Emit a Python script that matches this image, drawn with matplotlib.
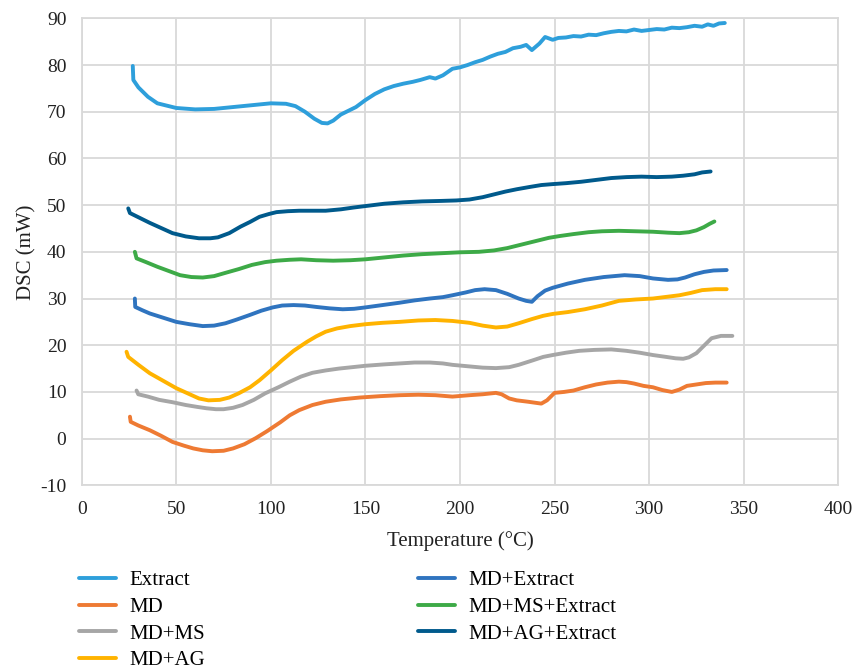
import matplotlib.pyplot as plt

# DSC curves (temperature in °C, heat flow in mW)
extract_t = [27, 27.3, 30, 35, 40, 50, 60, 70, 80, 90, 100, 108, 113, 118, 123, 127, 130, 133, 137, 140,
             145, 150, 155, 160, 165, 170, 175, 179, 184, 187, 191, 196, 200, 204, 208, 212, 216, 220,
             224, 228, 232, 235, 238, 242, 245, 249, 252, 256, 260, 264, 268, 272, 276, 280, 284, 288,
             292, 296, 300, 304, 308, 312, 316, 320, 324, 328, 331, 334, 337, 340]
extract_v = [79.8, 76.8, 75.2, 73.2, 71.8, 70.8, 70.5, 70.6, 71.0, 71.4, 71.8, 71.7, 71.2, 70.0, 68.5, 67.6,
             67.5, 68.1, 69.4, 70.0, 71.0, 72.5, 73.8, 74.8, 75.5, 76.0, 76.4, 76.8, 77.4, 77.1, 77.8,
             79.2, 79.5, 80.0, 80.6, 81.1, 81.8, 82.4, 82.8, 83.6, 83.9, 84.3, 83.2, 84.6, 86.0, 85.4,
             85.8, 85.9, 86.2, 86.1, 86.5, 86.4, 86.8, 87.1, 87.3, 87.2, 87.6, 87.3, 87.5, 87.7, 87.6,
             88.0, 87.9, 88.1, 88.4, 88.2, 88.7, 88.4, 88.9, 89.0]

md_t = [25.5, 25.9, 30, 36, 42, 48, 54, 59, 64, 69, 75, 80, 86, 92, 98, 105, 110, 115, 122, 129, 137,
        147, 158, 168, 178, 187, 196, 205, 212, 219, 222, 226, 230, 236, 243, 246, 250, 255, 260,
        266, 272, 278, 284, 288, 292, 297, 302, 307, 312, 316, 320, 325, 330, 335, 341]
md_v = [4.7, 3.6, 2.8, 1.8, 0.6, -0.7, -1.5, -2.1, -2.5, -2.7, -2.6, -2.1, -1.2, 0.1, 1.6, 3.5, 5.0, 6.1,
        7.2, 7.9, 8.4, 8.8, 9.1, 9.3, 9.4, 9.3, 9.0, 9.3, 9.5, 9.8, 9.5, 8.6, 8.2, 7.9, 7.5, 8.2, 9.8,
        10.0, 10.3, 11.0, 11.6, 12.0, 12.2, 12.1, 11.8, 11.3, 11.0, 10.4, 10.0, 10.5, 11.3, 11.6, 11.9,
        12.0, 12.0]

md_ms_t = [29, 29.9, 35, 41, 48, 55, 61, 66, 71, 75, 80, 85, 91, 97, 104, 110, 116, 122, 129, 136, 143,
           150, 160, 168, 176, 184, 191, 196, 204, 212, 219, 226, 231, 238, 244, 249, 256, 263, 271,
           280, 288, 295, 302, 309, 314, 318, 321, 325, 329, 333, 338, 344]
md_ms_v = [10.3, 9.5, 9.0, 8.3, 7.8, 7.2, 6.8, 6.5, 6.3, 6.3, 6.6, 7.2, 8.3, 9.7, 11.0, 12.2, 13.3, 14.1,
           14.6, 15.0, 15.3, 15.6, 15.9, 16.1, 16.3, 16.3, 16.1, 15.8, 15.5, 15.2, 15.1, 15.3, 15.8,
           16.7, 17.5, 17.9, 18.4, 18.8, 19.0, 19.1, 18.8, 18.4, 17.9, 17.5, 17.2, 17.1, 17.4, 18.3,
           19.9, 21.5, 22.0, 22.0]

md_ag_t = [23.7, 24.6, 30, 36, 43, 50, 56, 62, 67, 73, 78, 83, 89, 94, 100, 106, 112, 119, 124, 129, 135,
           142, 150, 159, 168, 178, 187, 196, 205, 212, 219, 225, 231, 238, 244, 249, 257, 266, 275,
           284, 293, 302, 310, 316, 322, 328, 335, 341]
md_ag_v = [18.6, 17.5, 15.8, 14.0, 12.4, 10.8, 9.7, 8.6, 8.2, 8.3, 8.8, 9.7, 11.0, 12.5, 14.6, 16.8, 18.8,
           20.7, 21.9, 22.9, 23.6, 24.1, 24.5, 24.8, 25.0, 25.3, 25.4, 25.2, 24.8, 24.2, 23.8, 24.0,
           24.7, 25.6, 26.3, 26.7, 27.1, 27.7, 28.5, 29.5, 29.8, 30.0, 30.4, 30.7, 31.2, 31.8, 32.0,
           32.0]

md_ex_t = [28.1, 28.3, 32, 36, 43, 50, 57, 64, 70, 76, 82, 89, 95, 101, 106, 112, 118, 124, 131, 138, 144,
           150, 159, 168, 176, 184, 191, 196, 203, 208, 213, 219, 225, 231, 235, 238, 241, 245, 249,
           257, 266, 276, 287, 295, 302, 310, 315, 319, 324, 329, 334, 341]
md_ex_v = [30.0, 28.2, 27.5, 26.8, 25.9, 25.0, 24.5, 24.1, 24.2, 24.7, 25.5, 26.5, 27.4, 28.1, 28.5, 28.6,
           28.5, 28.2, 27.9, 27.7, 27.8, 28.1, 28.6, 29.1, 29.6, 30.0, 30.3, 30.7, 31.3, 31.8, 32.0,
           31.8, 31.0, 30.0, 29.5, 29.3, 30.5, 31.7, 32.3, 33.2, 34.0, 34.6, 35.0, 34.8, 34.3, 34.0,
           34.1, 34.5, 35.2, 35.7, 36.0, 36.1]

md_ms_ex_t = [28.1, 29, 34, 40, 46, 52, 58, 64, 70, 76, 83, 90, 97, 103, 110, 116, 124, 133, 142, 150,
              160, 170, 180, 190, 200, 210, 218, 225, 232, 240, 247, 253, 260, 268, 275, 284, 293,
              302, 310, 316, 321, 325, 329, 332, 334.5]
md_ms_ex_v = [40.0, 38.6, 37.8, 36.8, 35.9, 35.0, 34.6, 34.5, 34.8, 35.5, 36.3, 37.2, 37.8, 38.1, 38.3,
              38.4, 38.2, 38.1, 38.2, 38.4, 38.8, 39.2, 39.5, 39.7, 39.9, 40.0, 40.3, 40.8, 41.5,
              42.3, 43.0, 43.4, 43.8, 44.2, 44.4, 44.5, 44.4, 44.3, 44.1, 44.0, 44.2, 44.6, 45.3,
              46.0, 46.5]

md_ag_ex_t = [24.6, 25.5, 30, 36, 42, 48, 55, 62, 68, 72, 78, 84, 89, 94, 99, 103, 109, 115, 122, 129,
              137, 144, 150, 160, 170, 180, 190, 198, 205, 212, 218, 224, 230, 237, 243, 249, 256,
              264, 272, 280, 288, 296, 304, 312, 318, 324, 328, 332.5]
md_ag_ex_v = [49.3, 48.3, 47.4, 46.2, 45.1, 44.0, 43.3, 42.9, 42.9, 43.1, 44.0, 45.4, 46.4, 47.5, 48.1,
              48.5, 48.7, 48.8, 48.8, 48.8, 49.1, 49.5, 49.8, 50.3, 50.6, 50.8, 50.9, 51.0, 51.2, 51.7,
              52.3, 52.9, 53.4, 53.9, 54.3, 54.5, 54.7, 55.0, 55.4, 55.8, 56.0, 56.1, 56.0, 56.1,
              56.3, 56.6, 57.0, 57.2]

series = [
    ('Extract', extract_t, extract_v, '#2E9FDB'),
    ('MD', md_t, md_v, '#EE7A33'),
    ('MD+MS', md_ms_t, md_ms_v, '#A6A6A6'),
    ('MD+AG', md_ag_t, md_ag_v, '#FFB300'),
    ('MD+Extract', md_ex_t, md_ex_v, '#2F74BF'),
    ('MD+MS+Extract', md_ms_ex_t, md_ms_ex_v, '#3DAA47'),
    ('MD+AG+Extract', md_ag_ex_t, md_ag_ex_v, '#005A8C'),
]

plt.rcParams['font.family'] = ['Liberation Serif', 'DejaVu Serif']
plt.rcParams['axes.unicode_minus'] = False

fig = plt.figure(figsize=(8.52, 6.71), dpi=100)
ax = fig.add_axes([0.0959, 0.2767, 0.888, 0.696])

for name, t, v, color in series:
    ax.plot(t, v, color=color, lw=2.8, label=name, solid_capstyle='round')

ax.set_xlim(0, 400)
ax.set_ylim(-10, 90)
ax.set_xticks(range(0, 401, 50))
ax.set_yticks(range(-10, 91, 10))
ax.grid(True, color='#D9D9D9', lw=1.3)
ax.set_axisbelow(True)
for sp in ax.spines.values():
    sp.set_color('#D9D9D9')
    sp.set_linewidth(1.3)
ax.tick_params(length=0, labelsize=14, colors='#222222', pad=11)
ax.set_xlabel('Temperature (°C)', fontsize=15, color='#222222', labelpad=10)
ax.set_ylabel('DSC (mW)', fontsize=15, color='#222222', labelpad=3)

fig.legend(loc='upper left', bbox_to_anchor=(0.0927, 0.1495), ncol=2, frameon=False,
           fontsize=15, handlelength=1.8, handletextpad=0.62, labelspacing=0.34,
           columnspacing=10.2, borderaxespad=0, borderpad=0)

fig.savefig('out.png', dpi=100)
